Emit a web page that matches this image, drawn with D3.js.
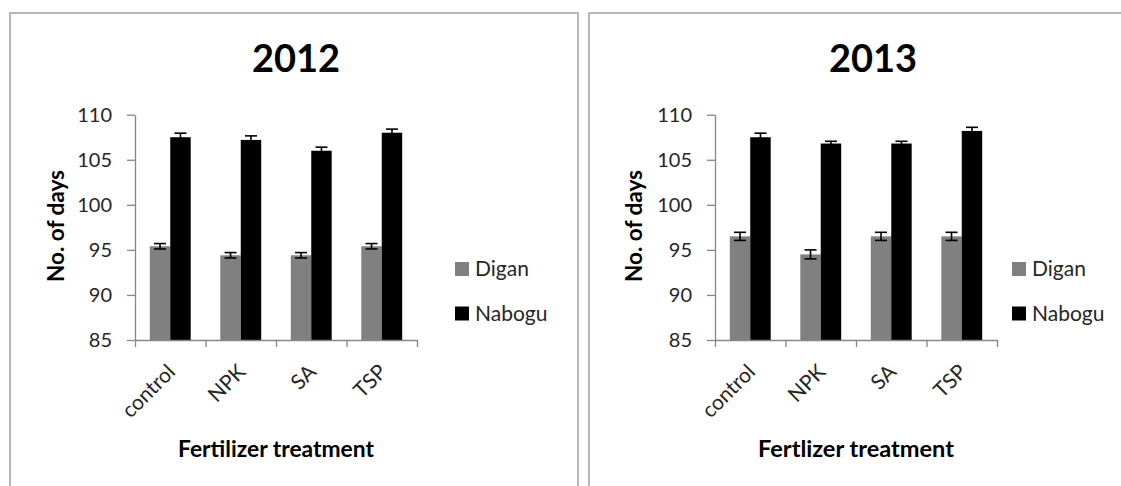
<!DOCTYPE html>
<html><head><meta charset="utf-8">
<script src="https://cdn.jsdelivr.net/npm/d3@7"></script>
<style>
body{margin:0;background:#fff;}
text{font-family:Lato,"Open Sans",sans-serif;}
</style>
</head><body>
<svg id="chart" width="1121" height="486"></svg>
<script>
// ---- data ----
const categories = ["control", "NPK", "SA", "TSP"];
const seriesNames = ["Digan", "Nabogu"];
const digan2012 = [95.4, 94.4, 94.4, 95.4];
const digan2012Err = [0.3, 0.3, 0.3, 0.3];
const nabogu2012 = [107.5, 107.2, 106.0, 108.0];
const nabogu2012Err = [0.45, 0.45, 0.4, 0.4];
const digan2013 = [96.5, 94.5, 96.5, 96.5];
const digan2013Err = [0.45, 0.5, 0.45, 0.45];
const nabogu2013 = [107.5, 106.8, 106.8, 108.2];
const nabogu2013Err = [0.45, 0.25, 0.25, 0.4];
const yTicks = [85, 90, 95, 100, 105, 110];
const titles = ["2012", "2013"];
const xTitles = ["Fertilizer treatment", "Fertlizer treatment"];
const yTitle = "No. of days";

// ---- layout ----
const layouts = [
  {bx: 10, plotL: 135, plotR: 417, titleX: 296, legendX: 455, yLabX: 57},
  {bx: 589, plotL: 715, plotR: 997, titleX: 873, legendX: 1012, yLabX: 635}
];
const colors = {Digan: "#808080", Nabogu: "#000000"};
const plotTop = 114.7, plotBottom = 340;

const svg = d3.select("#chart");
svg.append("rect").attr("width", 1121).attr("height", 486).attr("fill", "#fff");

const dataSets = [
  {Digan: digan2012, Nabogu: nabogu2012, DiganErr: digan2012Err, NabogErr: nabogu2012Err},
  {Digan: digan2013, Nabogu: nabogu2013, DiganErr: digan2013Err, NabogErr: nabogu2013Err}
];

layouts.forEach((L, pi) => {
  const ds = dataSets[pi];
  const g = svg.append("g");
  // panel border
  g.append("rect").attr("x", L.bx).attr("y", 13).attr("width", 568).attr("height", 520)
    .attr("fill", "none").attr("stroke", "#a0a0a0").attr("stroke-width", 1.5);

  const x0 = d3.scaleBand().domain(categories).range([L.plotL, L.plotR]).padding(0);
  const bw = x0.bandwidth();
  const x1 = d3.scaleBand().domain(seriesNames).range([bw * 0.21, bw * 0.79]).padding(0);
  const y = d3.scaleLinear().domain([85, 110]).range([plotBottom, plotTop]);

  // title
  g.append("text").attr("x", L.titleX).attr("y", 72).attr("text-anchor", "middle")
    .attr("font-size", 38).attr("font-weight", "bold").attr("fill", "#000").text(titles[pi]);

  // bars
  const rows = [];
  categories.forEach((c, i) => {
    rows.push({c, s: "Digan", v: ds.Digan[i], e: ds.DiganErr[i]});
    rows.push({c, s: "Nabogu", v: ds.Nabogu[i], e: ds.NabogErr[i]});
  });
  g.selectAll("rect.bar").data(rows).join("rect").attr("class", "bar")
    .attr("x", d => x0(d.c) + x1(d.s))
    .attr("width", x1.bandwidth())
    .attr("y", d => y(d.v))
    .attr("height", d => plotBottom - y(d.v))
    .attr("fill", d => colors[d.s]);

  // error bars
  const eg = g.selectAll("g.err").data(rows).join("g").attr("class", "err")
    .attr("stroke", "#000").attr("stroke-width", 1.6);
  eg.append("line")
    .attr("x1", d => x0(d.c) + x1(d.s) + x1.bandwidth() / 2)
    .attr("x2", d => x0(d.c) + x1(d.s) + x1.bandwidth() / 2)
    .attr("y1", d => y(d.v + d.e)).attr("y2", d => y(d.v - d.e));
  [1, -1].forEach(sg => {
    eg.append("line")
      .attr("x1", d => x0(d.c) + x1(d.s) + x1.bandwidth() / 2 - 6)
      .attr("x2", d => x0(d.c) + x1(d.s) + x1.bandwidth() / 2 + 6)
      .attr("y1", d => y(d.v + sg * d.e)).attr("y2", d => y(d.v + sg * d.e));
  });

  // y axis
  const ya = g.append("g").attr("transform", `translate(${L.plotL},0)`)
    .call(d3.axisLeft(y).tickValues(yTicks).tickSize(8).tickSizeOuter(0).tickPadding(15));
  ya.select(".domain").attr("stroke", "#868686").attr("stroke-width", 1.3);
  ya.selectAll(".tick line").attr("stroke", "#868686").attr("stroke-width", 1.3);
  ya.selectAll(".tick text").attr("font-size", 20).attr("fill", "#262626")
    .attr("font-family", "Lato, sans-serif");

  // x axis (ticks at band boundaries)
  const xb = d3.scaleLinear().domain([0, categories.length]).range([L.plotL, L.plotR]);
  const xa = g.append("g").attr("transform", `translate(0,${plotBottom})`)
    .call(d3.axisBottom(xb).ticks(categories.length).tickSize(7).tickSizeOuter(0).tickFormat(""));
  xa.select(".domain").attr("stroke", "#868686").attr("stroke-width", 1.3);
  xa.selectAll(".tick line").attr("stroke", "#868686").attr("stroke-width", 1.3);

  // category labels
  g.selectAll("text.cat").data(categories).join("text").attr("class", "cat")
    .attr("text-anchor", "end").attr("font-size", 21).attr("fill", "#262626")
    .attr("transform", c => `translate(${x0(c) + bw / 2 + 1},${plotBottom + 28}) rotate(-45)`)
    .attr("dy", "0.35em")
    .text(c => c);

  // x title
  g.append("text").attr("x", (L.plotL + L.plotR) / 2).attr("y", 457).attr("text-anchor", "middle")
    .attr("font-size", 22).attr("font-weight", "bold").attr("fill", "#000")
    .attr("textLength", 196).attr("lengthAdjust", "spacingAndGlyphs").text(xTitles[pi]);

  // y title
  g.append("text").attr("transform", `translate(${L.yLabX + 7},${226}) rotate(-90)`)
    .attr("text-anchor", "middle").attr("font-size", 22).attr("font-weight", "bold")
    .attr("fill", "#000").attr("textLength", 112).attr("lengthAdjust", "spacingAndGlyphs")
    .text(yTitle);

  // legend
  const lg = g.selectAll("g.leg").data(seriesNames).join("g").attr("class", "leg")
    .attr("transform", (s, i) => `translate(${L.legendX},${269 + i * 44.5})`);
  lg.append("rect").attr("x", 0).attr("y", -7).attr("width", 14).attr("height", 14)
    .attr("fill", s => colors[s]);
  lg.append("text").attr("x", 20).attr("y", 0).attr("dy", "0.35em").attr("font-size", 21)
    .attr("fill", "#262626").text(s => s);
});
</script>
</body></html>
